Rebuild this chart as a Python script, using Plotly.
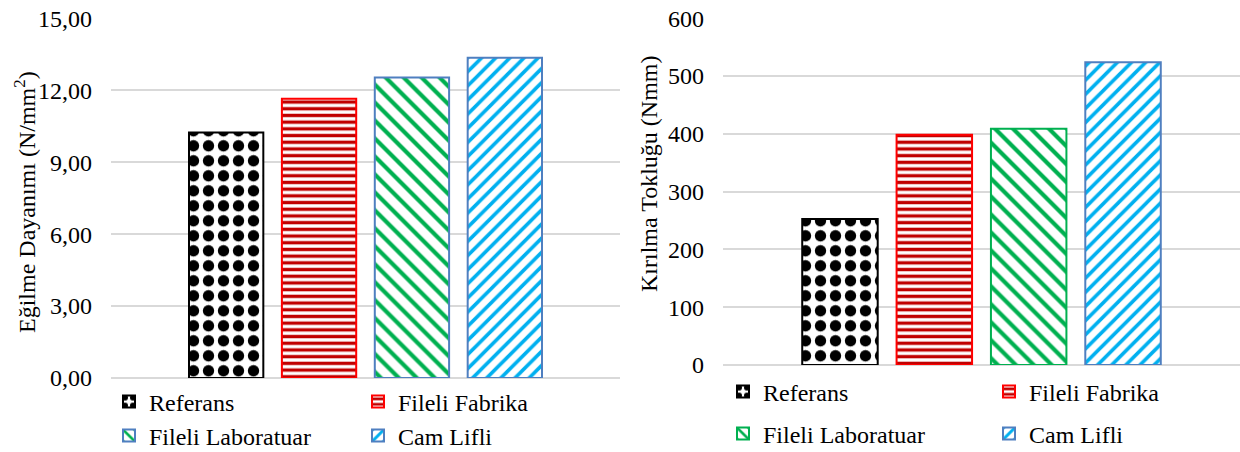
import plotly.graph_objects as go

# ---- data ----
series = ["Referans", "Fileli Fabrika", "Fileli Laboratuar", "Cam Lifli"]
category = ["Numune"]
egilme_values = [10.24, 11.65, 12.53, 13.36]
kirilma_values = [252.6, 398.5, 408.8, 524.0]

left_tickvals = [0, 3, 6, 9, 12, 15]
left_ticktext = ["0,00", "3,00", "6,00", "9,00", "12,00", "15,00"]
right_tickvals = [0, 100, 200, 300, 400, 500, 600]
right_ticktext = ["0", "100", "200", "300", "400", "500", "600"]

left_ytitle = "Eğilme Dayanımı (N/mm<sup>2</sup>)"
right_ytitle = "Kırılma Tokluğu (Nmm)"

# ---- styles ----
FONT = "Liberation Serif"
FS = 24
W, H = 1240, 452

patterns = [
    dict(shape=".", fgcolor="#000000", bgcolor="#ffffff", size=15, solidity=0.45, fillmode="replace"),
    dict(shape="-", fgcolor="#c00000", bgcolor="#ffffff", size=6.7, solidity=0.5, fillmode="replace"),
    dict(shape="\\", fgcolor="#00b050", bgcolor="#ffffff", size=12.7, solidity=0.33, fillmode="replace"),
    dict(shape="/", fgcolor="#00b0f0", bgcolor="#ffffff", size=10, solidity=0.36, fillmode="replace"),
]
left_borders = ["#000000", "#ff0000", "#4f7fc0", "#4f7fc0"]
right_borders = ["#000000", "#ff0000", "#00b050", "#4f7fc0"]

# legend text start (px) and centre y (px)
left_leg_pos = [(149, 402), (398, 402), (149, 436), (398, 436)]
right_leg_pos = [(763, 392), (1029, 392), (763, 434), (1029, 434)]

fig = go.Figure()

legend_layouts = {}
k = 0
for side, vals, borders, xa, ya, positions in [
    ("L", egilme_values, left_borders, "x", "y", left_leg_pos),
    ("R", kirilma_values, right_borders, "x2", "y2", right_leg_pos),
]:
    for i, name in enumerate(series):
        k += 1
        lname = "legend" if k == 1 else f"legend{k}"
        fig.add_trace(go.Bar(
            x=category, y=[vals[i]], name=name,
            xaxis=xa, yaxis=ya,
            marker=dict(color="#ffffff", pattern=patterns[i],
                        line=dict(color=borders[i], width=2)),
            legend=lname, hoverinfo="skip",
        ))
        tx, ty = positions[i]
        legend_layouts[lname] = dict(
            x=(tx - 40) / W, y=1 - ty / H, xanchor="left", yanchor="middle",
            orientation="h", bgcolor="rgba(0,0,0,0)", borderwidth=0,
            font=dict(family=FONT, size=FS, color="#000000"),
            itemclick=False, itemdoubleclick=False,
        )

axis_common = dict(showline=False, ticks="", showgrid=True, gridcolor="#d9d9d9",
                   gridwidth=2, zeroline=True, zerolinecolor="#d9d9d9", zerolinewidth=2,
                   tickfont=dict(family=FONT, size=FS, color="#000000"),
                   ticklabelstandoff=18, fixedrange=True)

fig.update_layout(
    width=W, height=H,
    margin=dict(l=0, r=0, t=0, b=0, autoexpand=False),
    paper_bgcolor="#ffffff", plot_bgcolor="#ffffff",
    barmode="group", bargap=0.27, bargroupgap=0.2,
    showlegend=True,
    font=dict(family=FONT, size=FS, color="#000000"),
    xaxis=dict(domain=[111 / W, 620 / W], showticklabels=False, showgrid=False,
               zeroline=False, showline=False, fixedrange=True),
    xaxis2=dict(domain=[723 / W, 1.0], showticklabels=False, showgrid=False,
                zeroline=False, showline=False, fixedrange=True, anchor="y2"),
    yaxis=dict(domain=[1 - 378 / H, 1 - 18.3 / H], range=[0, 15],
               tickvals=left_tickvals, ticktext=left_ticktext, anchor="x", **axis_common),
    yaxis2=dict(domain=[1 - 365 / H, 1 - 18.3 / H], range=[0, 600],
                tickvals=right_tickvals, ticktext=right_ticktext, anchor="x2", **axis_common),
    annotations=[
        dict(text=left_ytitle, x=25 / W, y=1 - 202 / H, xref="paper", yref="paper",
             textangle=-90, showarrow=False, xanchor="center", yanchor="middle",
             font=dict(family=FONT, size=FS, color="#000000")),
        dict(text=right_ytitle, x=649 / W, y=1 - 174 / H, xref="paper", yref="paper",
             textangle=-90, showarrow=False, xanchor="center", yanchor="middle",
             font=dict(family=FONT, size=FS, color="#000000")),
    ],
    **legend_layouts,
)

fig.write_html("out.html")
